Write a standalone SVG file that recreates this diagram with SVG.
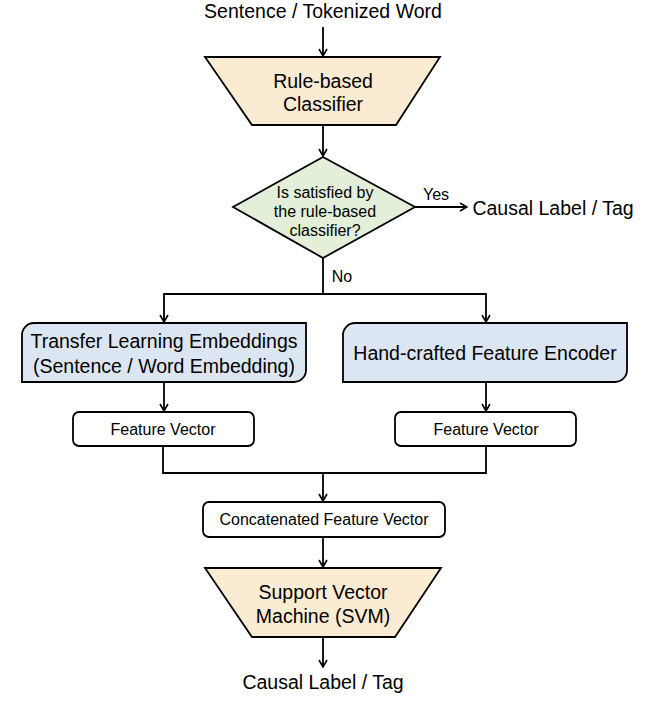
<svg xmlns="http://www.w3.org/2000/svg" width="655" height="704" viewBox="0 0 655 704">
<defs>
<marker id="arr" markerWidth="10" markerHeight="10" refX="9" refY="5" orient="auto" markerUnits="userSpaceOnUse">
<path d="M2,1 L9,5 L2,9" fill="none" stroke="#000" stroke-width="1.6"/>
</marker>
</defs>
<style>
text{font-family:"Liberation Sans",Arial,sans-serif;fill:#000;text-anchor:middle}
.big{font-size:19.5px}
.sm{font-size:16px}
.trap{fill:#FBEBD2;stroke:#000;stroke-width:1.8}
.dia{fill:#E3EFD9;stroke:#000;stroke-width:1.8}
.blue{fill:#DCE6F2;stroke:#000;stroke-width:1.8}
.white{fill:#fff;stroke:#000;stroke-width:1.8}
.con{fill:none;stroke:#000;stroke-width:1.8}
</style>
<rect width="655" height="704" fill="#fff"/>
<g id="input"><text class="big" x="323" y="18">Sentence / Tokenized Word</text></g>
<g id="rule-classifier">
<polygon class="trap" points="205,57 440,57 396,125 252,125"/>
<text class="big" x="323" y="88">Rule-based</text>
<text class="big" x="323" y="111">Classifier</text>
</g>
<g id="decision">
<polygon class="dia" points="323,157 415,207 323,258 233,207"/>
<text class="sm" x="325" y="198">Is satisfied by</text>
<text class="sm" x="325" y="217">the rule-based</text>
<text class="sm" x="325" y="236">classifier?</text>
</g>
<g id="output-yes"><text class="big" x="553" y="215">Causal Label / Tag</text></g>
<g id="transfer">
<path class="blue" d="M34,323 H306 V370 A12,12 0 0 1 294,382 H22 V335 A12,12 0 0 1 34,323 Z"/>
<text class="big" x="164" y="348">Transfer Learning Embeddings</text>
<text class="big" x="164" y="373">(Sentence / Word Embedding)</text>
</g>
<g id="handcrafted">
<path class="blue" d="M355,323 H627 V370 A12,12 0 0 1 615,382 H343 V335 A12,12 0 0 1 355,323 Z"/>
<text class="big" x="485" y="360">Hand-crafted Feature Encoder</text>
</g>
<g id="fv-left">
<rect class="white" x="73" y="412" width="181" height="34" rx="6"/>
<text class="sm" x="163" y="435">Feature Vector</text>
</g>
<g id="fv-right">
<rect class="white" x="395" y="412" width="181" height="34" rx="6"/>
<text class="sm" x="486" y="435">Feature Vector</text>
</g>
<g id="concat">
<rect class="white" x="203" y="502" width="242" height="35" rx="6"/>
<text class="sm" x="324" y="525">Concatenated Feature Vector</text>
</g>
<g id="svm">
<polygon class="trap" points="205,568 441,568 395,637 252,637"/>
<text class="big" x="323" y="599">Support Vector</text>
<text class="big" x="323" y="623">Machine (SVM)</text>
</g>
<g id="output-final"><text class="big" x="323" y="689">Causal Label / Tag</text></g>
<g id="connectors">
<line class="con" x1="323" y1="27" x2="323" y2="56" marker-end="url(#arr)"/>
<line class="con" x1="323" y1="125" x2="323" y2="156" marker-end="url(#arr)"/>
<line class="con" x1="415" y1="207" x2="467" y2="207" marker-end="url(#arr)"/>
<text class="sm" x="436" y="200">Yes</text>
<polyline class="con" points="323,258 323,294"/>
<text class="sm" x="342" y="282">No</text>
<polyline class="con" points="323,294 164,294 164,322" marker-end="url(#arr)"/>
<polyline class="con" points="323,294 486,294 486,322" marker-end="url(#arr)"/>
<line class="con" x1="164" y1="382" x2="164" y2="411" marker-end="url(#arr)"/>
<line class="con" x1="486" y1="382" x2="486" y2="411" marker-end="url(#arr)"/>
<polyline class="con" points="163,446 163,473 486,473 486,446"/>
<line class="con" x1="323" y1="473" x2="323" y2="501" marker-end="url(#arr)"/>
<line class="con" x1="323" y1="537" x2="323" y2="567" marker-end="url(#arr)"/>
<line class="con" x1="323" y1="637" x2="323" y2="667" marker-end="url(#arr)"/>
</g>
</svg>
